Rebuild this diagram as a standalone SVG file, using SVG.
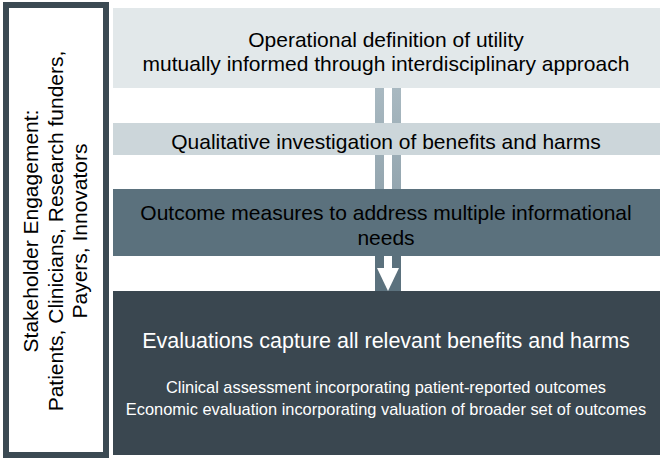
<svg xmlns="http://www.w3.org/2000/svg" width="664" height="460" viewBox="0 0 664 460">
<defs>
<style>
text{font-family:"Liberation Sans",Arial,sans-serif;text-anchor:middle}
.dk{fill:#000}
.wt{fill:#fff}
.m{font-size:21px}
.s{font-size:16.4px}
</style>
<linearGradient id="bar" x1="0" y1="0" x2="0" y2="1">
<stop offset="0" stop-color="#a9b9c1"/>
<stop offset="1" stop-color="#7e929d"/>
</linearGradient>
</defs>
<rect width="664" height="460" fill="#fff"/>
<g id="stakeholders">
<rect x="6" y="5" width="100" height="450" fill="#fff" stroke="#3b4a53" stroke-width="6"/>
<g transform="translate(56,231) rotate(-90)" class="m">
<text x="0" y="-18" class="dk">Stakeholder Engagement:</text>
<text x="0" y="7" class="dk">Patients, Clinicians, Research funders,</text>
<text x="0" y="31" class="dk">Payers, Innovators</text>
</g>
</g>
<g id="connectors">
<rect x="375" y="88" width="9" height="203" fill="url(#bar)"/>
<rect x="392" y="88" width="9" height="203" fill="url(#bar)"/>
<rect x="375" y="256" width="26" height="35" fill="#5b717d"/>
<rect x="384" y="256" width="8" height="13" fill="#fff"/>
<polygon points="377,268 399,268 388,291" fill="#fff"/>
</g>
<g id="step1">
<rect x="113" y="8" width="547" height="80" fill="#e2e8ea"/>
<text x="386" y="47" class="m dk">Operational definition of utility</text>
<text x="386" y="71" class="m dk">mutually informed through interdisciplinary approach</text>
</g>
<g id="step2">
<rect x="113" y="123" width="547" height="32" fill="#ccd6da"/>
<text x="386" y="149" class="m dk">Qualitative investigation of benefits and harms</text>
</g>
<g id="step3">
<rect x="113" y="189" width="547" height="67" fill="#5b717d"/>
<text x="386" y="220" class="m dk">Outcome measures to address multiple informational</text>
<text x="386" y="245" class="m dk">needs</text>
</g>
<g id="step4">
<rect x="113" y="291" width="547" height="164" fill="#3a4750"/>
<text x="386" y="348" class="wt" style="font-size:21.5px">Evaluations capture all relevant benefits and harms</text>
<text x="386" y="393" class="s wt">Clinical assessment incorporating patient-reported outcomes</text>
<text x="386" y="415" class="s wt">Economic evaluation incorporating valuation of broader set of outcomes</text>
</g>
</svg>
